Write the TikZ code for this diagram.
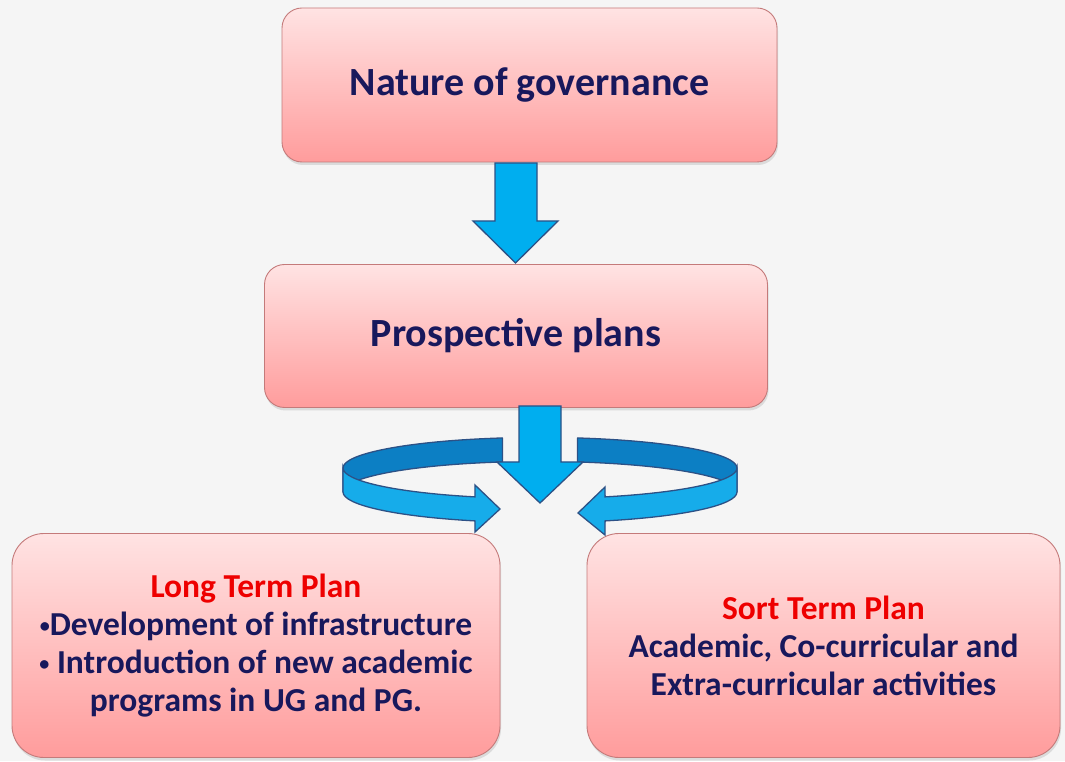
\documentclass[tikz,border=0pt]{standalone}
\usepackage{fontspec}
\setmainfont{Carlito}
\usetikzlibrary{shadows}
\definecolor{bg}{HTML}{F5F5F5}
\definecolor{pinktop}{HTML}{FFE3E3}
\definecolor{pinkbot}{HTML}{FF9C9C}
\definecolor{boxedge}{HTML}{C47A7A}
\definecolor{navy}{HTML}{18185C}
\definecolor{redtxt}{HTML}{EE0000}
\definecolor{arrowblue}{HTML}{00AEEF}
\definecolor{banddark}{HTML}{0C7FC4}
\definecolor{bandlight}{HTML}{16ACEA}
\definecolor{arrowedge}{HTML}{2C5186}
\newcommand{\smallbul}{\raisebox{0.15ex}{\scalebox{0.6}{\textbullet}}}
\begin{document}
\begin{tikzpicture}[x=1pt,y=1pt,
  pbox/.style={draw=boxedge, line width=0.9pt, top color=pinktop, bottom color=pinkbot,
    rounded corners=#1, inner sep=0pt, align=center, text=navy,
    drop shadow={opacity=0.22, shadow xshift=1pt, shadow yshift=-3pt}},
  bigtxt/.style={font=\fontsize{40}{46}\selectfont\bfseries},
  smalltxt/.style={font=\fontsize{33.5}{38}\selectfont\bfseries},
  blockarrow/.style={fill=arrowblue, draw=arrowedge, line width=1.3pt, line join=miter},
  backband/.style={fill=banddark, draw=arrowedge, line width=1.3pt, line join=round},
  frontband/.style={fill=bandlight, draw=arrowedge, line width=1.3pt, line join=miter},
  ring/.style={x radius=197, y radius=30.6}
]
\useasboundingbox (0,0) rectangle (1065,761);
\fill[bg] (0,0) rectangle (1065,761);

% boxes
\node[pbox=20pt, bigtxt, minimum width=495pt, minimum height=154pt] (gov) at (529.5,676) {Nature of governance};
\node[pbox=20pt, bigtxt, minimum width=503pt, minimum height=143pt] (plans) at (516,425) {Prospective plans};
\node[pbox=32pt, smalltxt, minimum width=488pt, minimum height=224pt] (long) at (256,115.5)
  {\textcolor{redtxt}{Long Term Plan}\\ \smallbul Development of infrastructure\\ \smallbul{} Introduction of new academic\\ programs in UG and PG.};
\node[pbox=32pt, smalltxt, minimum width=473pt, minimum height=224pt] (short) at (823.5,115.5)
  {\textcolor{redtxt}{Sort Term Plan}\\ Academic, Co-curricular and\\ Extra-curricular activities};

% ring (back parts)
\draw[backband] (540,293) ++(101:197 and 30.6) arc[start angle=101, end angle=180, ring]
  -- (343,269) arc[start angle=180, end angle=101, ring] -- cycle;
\draw[backband] (540,293) ++(79:197 and 30.6) arc[start angle=79, end angle=0, ring]
  -- (737,269) arc[start angle=0, end angle=79, ring] -- cycle;

% ring (front parts with arrow heads)
\draw[frontband] (343,293) arc[start angle=180, end angle=250.7, ring]
  -- (475,276) -- (500,252) -- (475,229) -- (474.9,240.1)
  arc[start angle=250.7, end angle=180, ring] -- cycle;
\draw[frontband] (737,293) arc[start angle=0, end angle=-70.7, ring]
  -- (605,274) -- (578,248) -- (605,226) -- (605.1,240.1)
  arc[start angle=-70.7, end angle=0, ring] -- cycle;

% down arrows
\draw[blockarrow] (495,598) -- (537,598) -- (537,540) -- (558,540) -- (515.5,498)
  -- (473,540) -- (495,540) -- cycle;
\draw[blockarrow] (519,355) -- (561,355) -- (561,299) -- (583,299) -- (540,258)
  -- (497,299) -- (519,299) -- cycle;
\end{tikzpicture}
\end{document}
